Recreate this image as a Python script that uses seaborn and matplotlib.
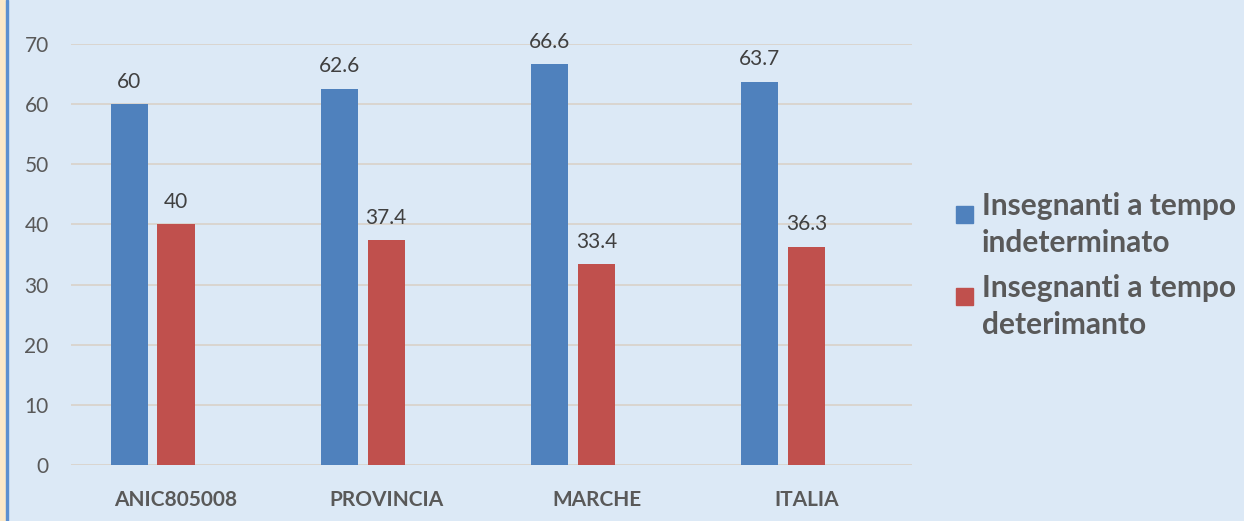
import pandas as pd
import matplotlib
matplotlib.use('Agg')
import matplotlib.pyplot as plt
import seaborn as sns
from matplotlib.patches import Rectangle

CATEGORIES = ['ANIC805008', 'PROVINCIA', 'MARCHE', 'ITALIA']
INDETERMINATO = [60, 62.6, 66.6, 63.7]
DETERMINATO = [40, 37.4, 33.4, 36.3]
SERIES = ['Insegnanti a tempo indeterminato', 'Insegnanti a tempo deterimanto']
LEGEND_LINES = [['Insegnanti a tempo', 'indeterminato'],
                ['Insegnanti a tempo', 'deterimanto']]
COLORS = ['#4f81bd', '#c0504d']
Y_TICKS = [0, 10, 20, 30, 40, 50, 60, 70]

BG = '#dce9f6'
TXT = '#595959'

df = pd.DataFrame({
    'categoria': CATEGORIES * 2,
    'valore': INDETERMINATO + DETERMINATO,
    'serie': [SERIES[0]] * len(CATEGORIES) + [SERIES[1]] * len(CATEGORIES),
})

sns.set_theme(style='white')
plt.rcParams['font.family'] = ['Lato', 'DejaVu Sans']

fig = plt.figure(figsize=(12.44, 5.21), dpi=100, facecolor=BG)
ax = fig.add_axes([0.057, 0.1075, 0.676, 0.808])
ax.set_facecolor(BG)

# terzo livello vuoto: in Excel le barre sono spostate a sinistra del centro
sns.barplot(
    data=df, x='categoria', y='valore', hue='serie',
    hue_order=SERIES + [''], palette=COLORS + ['#ffffff'], saturation=1,
    width=0.67, gap=0.21, linewidth=0, legend=False, ax=ax,
)

for cont in ax.containers[:2]:
    ax.bar_label(cont, labels=[f'{v:g}' for v in cont.datavalues],
                 padding=9, fontsize=15, color='#404040')

ax.set_ylim(0, 70)
ax.set_yticks(Y_TICKS)
ax.set_xlim(-0.5, len(CATEGORIES) - 0.5)
ax.yaxis.grid(True, color='#d9d3cc', linewidth=1.3)
ax.set_axisbelow(True)
for s in ax.spines.values():
    s.set_visible(False)
ax.tick_params(axis='y', length=0, pad=16, labelsize=15, labelcolor=TXT)
ax.tick_params(axis='x', length=0, pad=18, labelsize=15, labelcolor=TXT)
for lab in ax.get_xticklabels():
    lab.set_fontweight('bold')
ax.set_xlabel('')
ax.set_ylabel('')

# legenda manuale, quadratino allineato alla prima riga
W, H = fig.get_size_inches() * fig.dpi
for i, (lines, col) in enumerate(zip(LEGEND_LINES, COLORS)):
    base = 215 + i * 82
    fig.patches.append(Rectangle((956 / W, 1 - (base + 8) / H), 17 / W, 17 / H,
                                 transform=fig.transFigure, color=col))
    for j, line in enumerate(lines):
        fig.text(982 / W, 1 - (base + j * 37) / H, line, fontsize=21.5,
                 fontweight='bold', color=TXT, va='baseline', ha='left')

# bordo sinistro
fig.patches.append(Rectangle((0, 0), 6 / W, 1, transform=fig.transFigure,
                             color='#fbe8c8'))
fig.patches.append(Rectangle((6 / W, 0), 2 / W, 1, transform=fig.transFigure,
                             color='#5b8fd0'))

fig.savefig('out.png', dpi=100, facecolor=BG)
